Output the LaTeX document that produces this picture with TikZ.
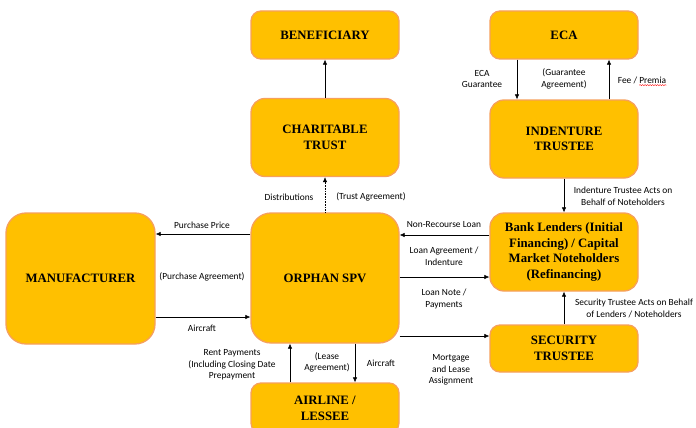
\documentclass[tikz,border=0pt]{standalone}
\usepackage{fontspec}
\setmainfont{Liberation Serif}
\newfontfamily\lblfont{Carlito}
\usetikzlibrary{arrows.meta,calc,decorations.pathmorphing}
\definecolor{boxfill}{HTML}{FFC000}
\definecolor{boxline}{HTML}{F6A05C}
\tikzset{
  entity/.style={draw=boxline, line width=1.3pt, fill=boxfill, rounded corners=10pt,
    minimum width=148pt, inner sep=2pt, align=center,
    font=\fontsize{12.8}{15.7}\selectfont\bfseries},
  bigentity/.style={entity, rounded corners=20pt},
  lbl/.style={align=center, inner sep=0pt, font=\lblfont\fontsize{9.4}{11.5}\selectfont},
  arr/.style={-{Latex[length=5pt,width=4.5pt]}, line width=0.6pt, black},
  spell/.style={red, line width=0.4pt, decorate, decoration={snake, amplitude=0.6pt, segment length=2.5pt}},
}
\begin{document}
\begin{tikzpicture}[x=1pt,y=-1pt]
\useasboundingbox (0,0) rectangle (696,428);
% boxes
\node[entity, minimum height=48pt] (ben) at (325,35) {BENEFICIARY};
\node[entity, rounded corners=14pt, minimum height=78pt] (char) at (325,137.5) {CHARITABLE\\TRUST};
\node[entity, minimum height=48pt] (eca) at (564,35) {ECA};
\node[entity, rounded corners=14pt, minimum height=78pt] (ind) at (564,139) {INDENTURE\\TRUSTEE};
\node[bigentity, minimum width=149pt, minimum height=131pt] (man) at (80.5,278.5) {MANUFACTURER};
\node[bigentity, minimum height=130pt] (spv) at (325,278) {ORPHAN SPV};
\node[entity, rounded corners=14pt, minimum height=78pt] (bank) at (564,252) {Bank Lenders (Initial\\Financing) / Capital\\Market Noteholders\\(Refinancing)};
\node[entity, minimum height=47pt] (sec) at (564,348.5) {SECURITY\\TRUSTEE};
\node[entity, minimum height=50pt] (air) at (325,408) {AIRLINE /\\LESSEE};
% connectors
\draw[arr] (char.north) -- (ben.south);
\draw[arr, densely dotted] (spv.north) -- (char.south);
\draw[arr] ([xshift=-47]eca.south) -- ([xshift=-47]eca.south |- ind.north);
\draw[arr] ([xshift=45]ind.north) -- ([xshift=45]ind.north |- eca.south);
\draw[arr] (ind.south) -- (bank.north);
\draw[arr] ([yshift=44]spv.west) -- ([yshift=44]spv.west -| man.east);
\draw[arr] ([yshift=-39]spv.west -| man.east) -- ([yshift=-39]spv.west);
\draw[arr] ([yshift=17]bank.west) -- ([yshift=17]bank.west -| spv.east);
\draw[arr] ([yshift=-25]bank.west -| spv.east) -- ([yshift=-25]bank.west);
\draw[arr] ([yshift=12.5]sec.west -| spv.east) -- ([yshift=12.5]sec.west);
\draw[arr] (sec.north) -- (bank.south);
\draw[arr] ([xshift=-35]air.north) -- ([xshift=-35]air.north |- spv.south);
\draw[arr] ([xshift=30]spv.south) -- ([xshift=30]spv.south |- air.north);
% labels
\node[lbl] (l1) at (289,197) {Distributions};
\node[lbl] (l2) at (371,197) {(Trust Agreement)};
\node[lbl] (l3) at (482,79) {ECA\\Guarantee};
\node[lbl] (l4) at (564,79) {(Guarantee\\Agreement)};
\node[lbl] (l5) at (642,80) {Fee / Premia};
\draw[spell] ([xshift=-27,yshift=-1.5]l5.south east) -- ([yshift=-1.5]l5.south east);
\node[lbl] (l6) at (623,196.5) {Indenture Trustee Acts on\\Behalf of Noteholders};
\node[lbl] (l7) at (202,225) {Purchase Price};
\node[lbl] (l8) at (202,277) {(Purchase Agreement)};
\node[lbl] (l9) at (202,328) {Aircraft};
\node[lbl] (l10) at (444,225) {Non-Recourse Loan};
\node[lbl] (l11) at (444,256.5) {Loan Agreement /\\Indenture};
\node[lbl] (l12) at (444,299) {Loan Note /\\Payments};
\node[lbl] (l13) at (451,370) {Mortgage\\and Lease\\Assignment};
\node[lbl] (l14) at (634,308.5) {Security Trustee Acts on Behalf\\of Lenders / Noteholders};
\node[lbl] (l15) at (232,365) {Rent Payments\\(Including Closing Date\\Prepayment};
\node[lbl] (l16) at (327,362.5) {(Lease\\Agreement)};
\node[lbl] (l17) at (381,363) {Aircraft};
\end{tikzpicture}
\end{document}
